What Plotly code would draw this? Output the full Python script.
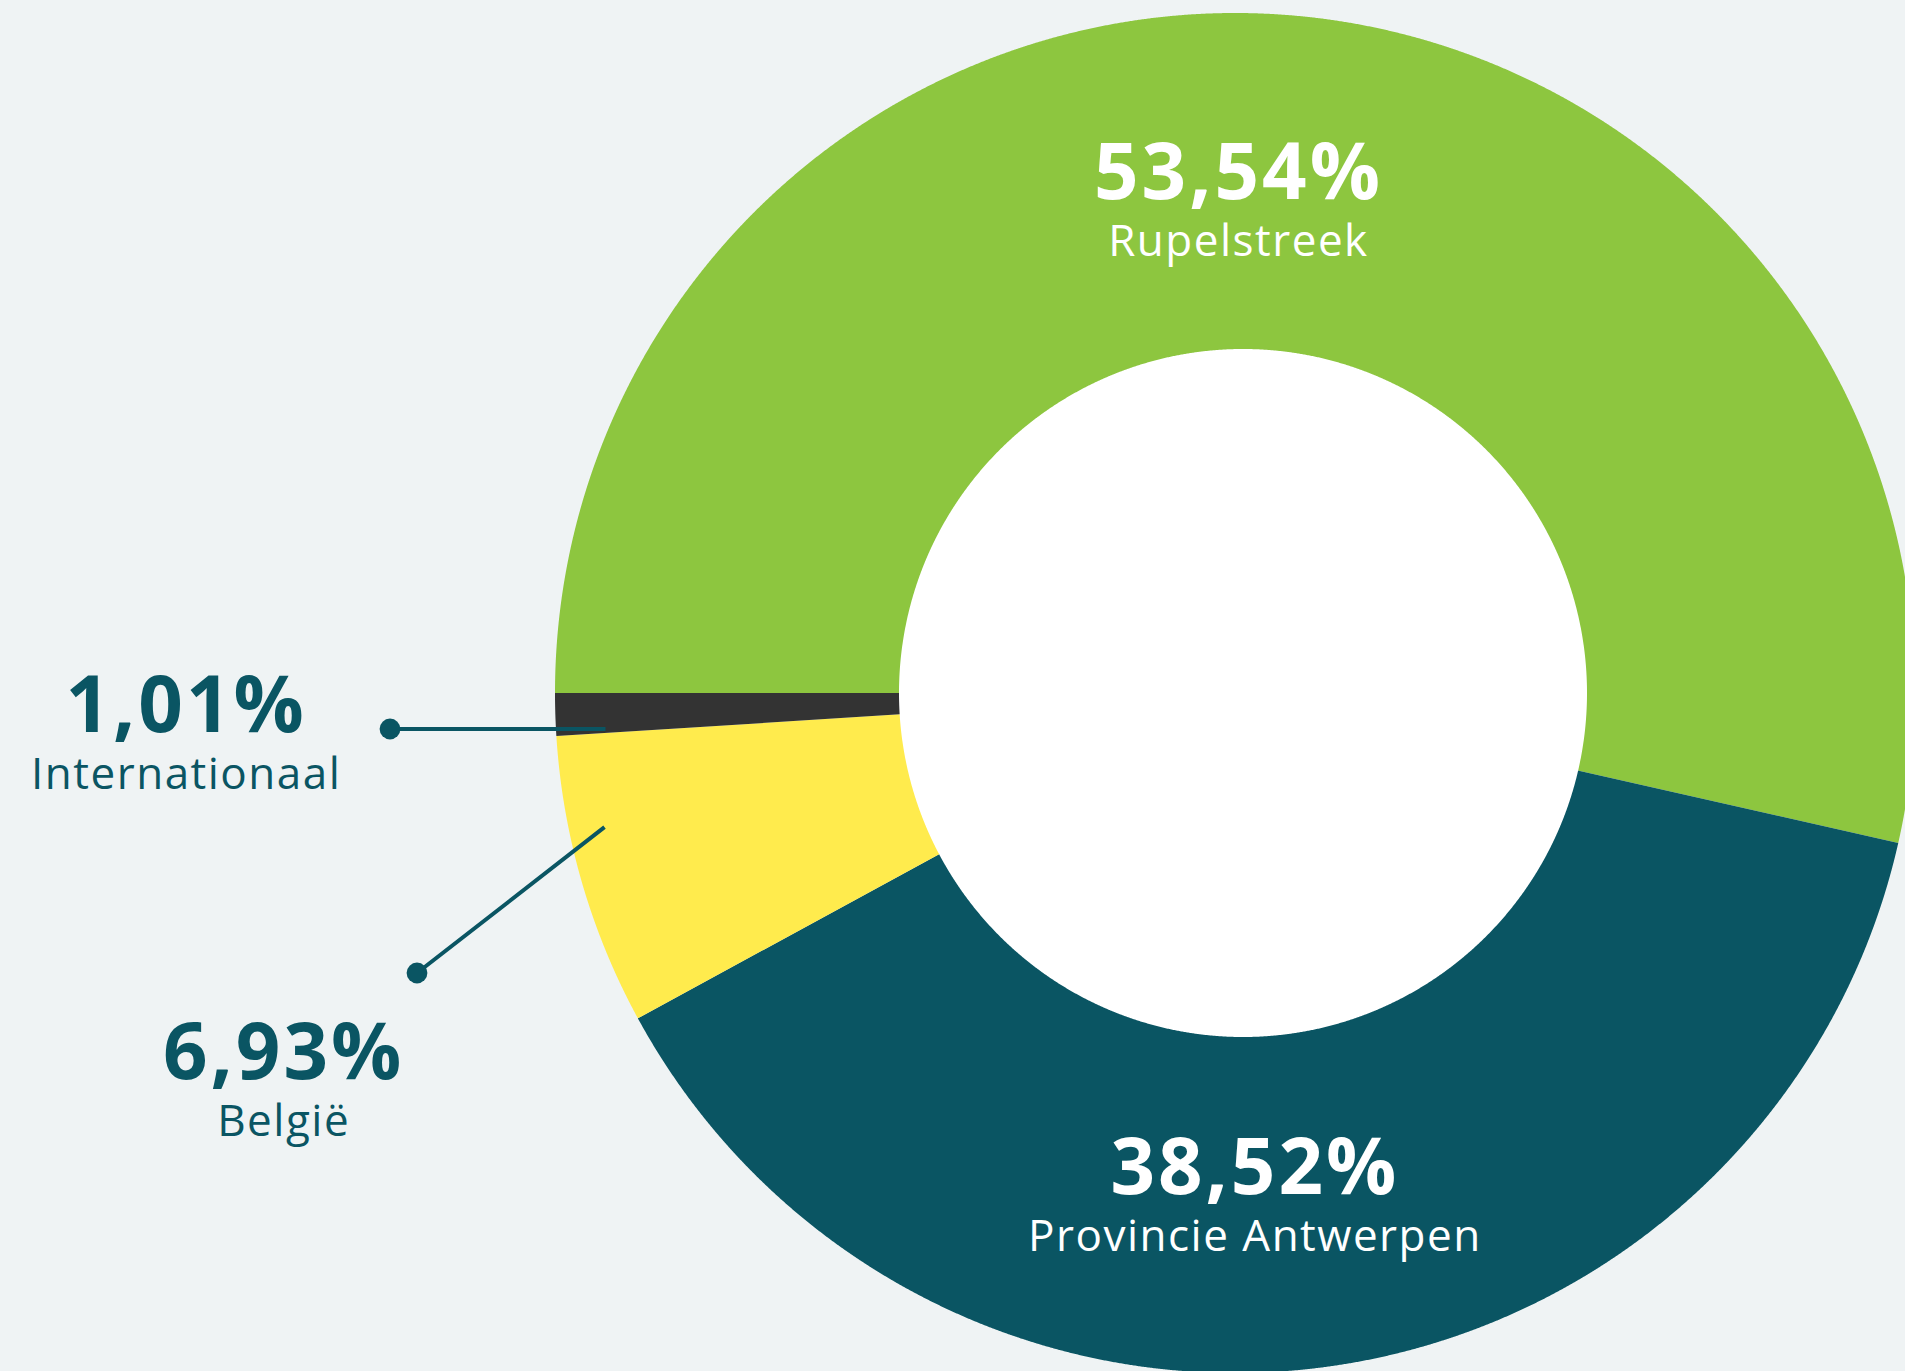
import numpy as np
import plotly.graph_objects as go

# ---------------- data ----------------
categories = ["Rupelstreek", "Provincie Antwerpen", "België", "Internationaal"]
shares = [53.54, 38.52, 6.93, 1.01]
pct_labels = ["53,54%", "38,52%", "6,93%", "1,01%"]

# ---------------- style ----------------
colors = ["#8dc63f", "#0a5563", "#ffeb4d", "#333333"]
BG = "#eff3f4"
TEAL = "#0a5563"
FONT = "Open Sans"

W, H = 1905, 1371
CX, CY, UNIT = 1235.0, 693.0, 680.0      # donut centre (px) and outer radius (px)
HOLE_DX, HOLE_R = 8.0 / UNIT, 344.0 / UNIT


def to_data(px, py):
    return (px - CX) / UNIT, (CY - py) / UNIT


fig = go.Figure()

# slices: start at 9 o'clock, clockwise
total = sum(shares)
start = 180.0
for cat, val, col in zip(categories, shares, colors):
    sweep = val / total * 360.0
    a = np.radians(np.linspace(start, start - sweep, max(int(sweep * 10), 16)))
    xs = np.concatenate([[0.0], np.cos(a), [0.0]])
    ys = np.concatenate([[0.0], np.sin(a), [0.0]])
    fig.add_trace(go.Scatter(x=xs, y=ys, mode="lines", fill="toself",
                             fillcolor=col, line=dict(width=0, color=col, simplify=False),
                             name=cat, hoverinfo="name", showlegend=False))
    start -= sweep

# white hole
t = np.radians(np.linspace(0, 360, 2161))
fig.add_trace(go.Scatter(x=HOLE_DX + HOLE_R * np.cos(t), y=HOLE_R * np.sin(t),
                         mode="lines", fill="toself", fillcolor="#ffffff",
                         line=dict(width=0, color="#ffffff", simplify=False),
                         hoverinfo="skip", showlegend=False))

# ---------------- labels ----------------
label_pos = {  # (centre x px, centre y px, colour)
    "Rupelstreek": (1238, 192, "#ffffff"),
    "Provincie Antwerpen": (1255, 1187, "#ffffff"),
    "België": (283, 1072, TEAL),
    "Internationaal": (186, 725, TEAL),
}
annotations = []
for cat, pct in zip(categories, pct_labels):
    px, py, col = label_pos[cat]
    x, y = to_data(px, py)
    txt = ("<span style='font-size:78px;letter-spacing:3px'><b>" + pct + "</b></span>"
           "<br><span style='letter-spacing:1.5px'>" + cat + "</span>")
    annotations.append(dict(x=x, y=y, xref="x", yref="y", text=txt,
                            showarrow=False, xanchor="center", yanchor="middle",
                            align="center",
                            font=dict(family=FONT, size=44, color=col)))

# leader lines with dot ends
leaders = [((390, 729), (607, 729)), ((417, 973), (606, 826))]
for (dx_, dy_), (ex, ey) in leaders:
    hx, hy = to_data(dx_, dy_)
    tx, ty = to_data(ex, ey)
    annotations.append(dict(x=hx, y=hy, xref="x", yref="y", ax=tx, ay=ty,
                            axref="x", ayref="y", text="", showarrow=True,
                            arrowhead=6, arrowsize=1.3, arrowwidth=4,
                            arrowcolor=TEAL, standoff=0, startstandoff=0))

x0, _ = to_data(0, 0)
x1, _ = to_data(W, 0)
_, y_top = to_data(0, 0)
_, y_bot = to_data(0, H)

fig.update_layout(
    width=W, height=H,
    margin=dict(l=0, r=0, t=0, b=0, pad=0),
    paper_bgcolor=BG, plot_bgcolor=BG,
    xaxis=dict(range=[x0, x1], visible=False, fixedrange=True),
    yaxis=dict(range=[y_bot, y_top], visible=False, fixedrange=True),
    annotations=annotations,
    showlegend=False,
    hovermode="closest",
)

fig.write_html("out.html",
               config={"displayModeBar": False},
               post_script="document.body.style.margin='0';document.body.style.overflow='hidden';")
